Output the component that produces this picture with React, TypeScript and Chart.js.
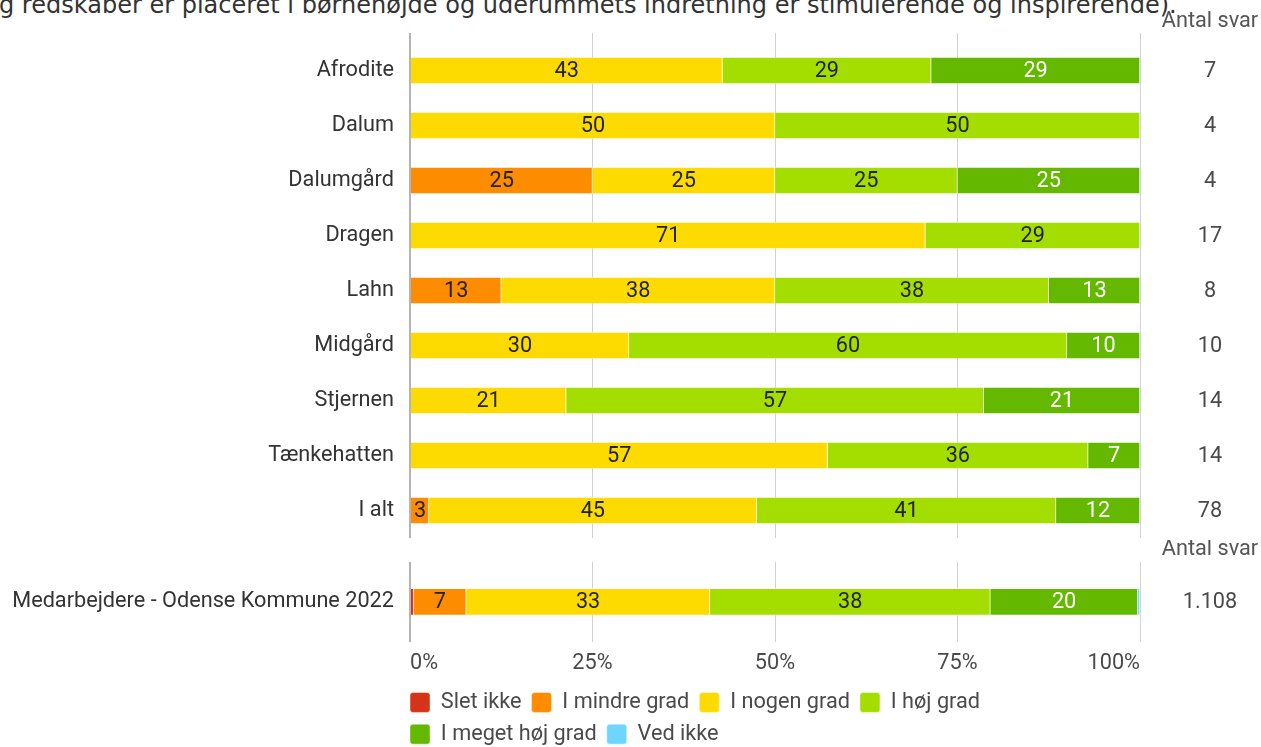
import React, { useEffect, useRef } from "react";
import { Chart, registerables } from "chart.js";

Chart.register(...registerables);

// ---------- DATA ----------
const titleText =
  "g redskaber er placeret i børnehøjde og uderummets indretning er stimulerende og inspirerende).";
const answerHeader = "Antal svar";

const categories = [
  "Afrodite",
  "Dalum",
  "Dalumgård",
  "Dragen",
  "Lahn",
  "Midgård",
  "Stjernen",
  "Tænkehatten",
  "I alt",
];
const answerCounts = ["7", "4", "4", "17", "8", "10", "14", "14", "78"];

const sletIkke = [0, 0, 0, 0, 0, 0, 0, 0, 0];
const iMindreGrad = [0, 0, 25, 0, 12.5, 0, 0, 0, 2.6];
const iNogenGrad = [42.8, 50, 25, 70.6, 37.5, 30, 21.4, 57.2, 44.9];
const iHoejGrad = [28.6, 50, 25, 29.4, 37.5, 60, 57.2, 35.7, 41.0];
const iMegetHoejGrad = [28.6, 0, 25, 0, 12.5, 10, 21.4, 7.1, 11.5];
const vedIkke = [0, 0, 0, 0, 0, 0, 0, 0, 0];

const benchmarkCategories = ["Medarbejdere - Odense Kommune 2022"];
const benchmarkCounts = ["1.108"];
const benchSletIkke = [0.5];
const benchIMindreGrad = [7.2];
const benchINogenGrad = [33.4];
const benchIHoejGrad = [38.4];
const benchIMegetHoejGrad = [20.2];
const benchVedIkke = [0.3];

const seriesNames = [
  "Slet ikke",
  "I mindre grad",
  "I nogen grad",
  "I høj grad",
  "I meget høj grad",
  "Ved ikke",
];
const seriesColors = ["#d63418", "#fd8c00", "#fedb00", "#a4de00", "#64b800", "#6fd5ff"];
const xTickValues = [0, 25, 50, 75, 100];

// ---------- STYLE ----------
const FONT = "Roboto";
const FS = 21.7;
const TEXT_DARK = "#333333";
const TEXT_MID = "#4a4a4a";

const gridColor = (c: any) =>
  c.tick && c.tick.value === xTickValues[0] ? "#b4b4b4" : "#d2d2d2";
const gridWidth = (c: any) => (c.tick && c.tick.value === xTickValues[0] ? 2 : 1);

const valueLabels = {
  id: "valueLabels",
  afterDatasetsDraw(chart: any) {
    const ctx = chart.ctx;
    ctx.save();
    ctx.font = `${FS}px ${FONT}`;
    ctx.textAlign = "center";
    ctx.textBaseline = "middle";
    chart.data.datasets.forEach((ds: any, di: number) => {
      const meta = chart.getDatasetMeta(di);
      meta.data.forEach((el: any, i: number) => {
        const v = ds.data[i] as number;
        if (!v || v < 1) return;
        ctx.fillStyle = di === 4 ? "#ffffff" : "#222222";
        ctx.fillText(String(Math.round(v)), (el.x + el.base) / 2, el.y + 1);
      });
    });
    ctx.restore();
  },
};

const answerColumn = (header: string, counts: string[], headerY: number) => ({
  id: "answerColumn",
  afterDraw(chart: any) {
    const ctx = chart.ctx;
    const yScale = chart.scales.y;
    const x = chart.chartArea.right + 70;
    ctx.save();
    ctx.font = `${FS}px ${FONT}`;
    ctx.textAlign = "center";
    ctx.textBaseline = "middle";
    ctx.fillStyle = "#555555";
    ctx.fillText(header, x, headerY);
    ctx.fillStyle = TEXT_MID;
    counts.forEach((c, i) => ctx.fillText(c, x, yScale.getPixelForValue(i) + 1));
    ctx.restore();
  },
});

const legendShift = {
  id: "legendShift",
  afterLayout(chart: any) {
    const l = chart.legend;
    if (!l) return;
    const p = l.options.labels.padding || 0;
    l.left -= p;
    l.right -= p;
  },
};

const makeDatasets = (series: number[][]) =>
  seriesNames.map((name, k) => ({
    label: name,
    data: series[k],
    backgroundColor: seriesColors[k],
    borderColor: "rgba(255,255,255,0.45)",
    borderWidth: 1,
    barThickness: 27,
  }));

const yAxis = () => ({
  stacked: true,
  grid: { display: false, drawTicks: false },
  border: { display: false },
  ticks: {
    color: TEXT_DARK,
    font: { family: FONT, size: FS },
    padding: 16,
  },
  afterFit: (s: any) => {
    s.width = 410;
    s.paddingTop = 0;
    s.paddingBottom = 0;
  },
});

export default function App() {
  const topRef = useRef<HTMLCanvasElement | null>(null);
  const bottomRef = useRef<HTMLCanvasElement | null>(null);

  useEffect(() => {
    if (!topRef.current || !bottomRef.current) return;

    const top = new Chart(topRef.current, {
      type: "bar",
      data: {
        labels: categories,
        datasets: makeDatasets([
          sletIkke,
          iMindreGrad,
          iNogenGrad,
          iHoejGrad,
          iMegetHoejGrad,
          vedIkke,
        ]) as any,
      },
      options: {
        indexAxis: "y",
        responsive: false,
        animation: false,
        devicePixelRatio: 1,
        layout: { padding: { top: 33, right: 121, bottom: 2, left: 0 } },
        plugins: { legend: { display: false }, tooltip: { enabled: false } },
        scales: {
          x: {
            position: "top",
            stacked: true,
            min: 0,
            max: 100,
            ticks: { display: false, stepSize: 25 },
            grid: { color: gridColor, lineWidth: gridWidth, drawTicks: true, tickLength: 10 },
            border: { display: false },
          },
          y: yAxis(),
        },
      } as any,
      plugins: [valueLabels, answerColumn(answerHeader, answerCounts, 22)],
    });

    const bottom = new Chart(bottomRef.current, {
      type: "bar",
      data: {
        labels: benchmarkCategories,
        datasets: makeDatasets([
          benchSletIkke,
          benchIMindreGrad,
          benchINogenGrad,
          benchIHoejGrad,
          benchIMegetHoejGrad,
          benchVedIkke,
        ]) as any,
      },
      options: {
        indexAxis: "y",
        responsive: false,
        animation: false,
        devicePixelRatio: 1,
        layout: { padding: { top: 22, right: 121, bottom: 0, left: 0 } },
        plugins: {
          tooltip: { enabled: false },
          legend: {
            display: true,
            position: "bottom",
            align: "start",
            fullSize: false,
            labels: {
              color: TEXT_MID,
              font: { family: FONT, size: FS },
              boxWidth: 20,
              boxHeight: 20,
              padding: 10,
              useBorderRadius: true,
              borderRadius: 3,
            },
          },
        },
        scales: {
          x: {
            position: "bottom",
            stacked: true,
            min: 0,
            max: 100,
            ticks: {
              stepSize: 25,
              callback: (v: any) => `${v}%`,
              align: "inner",
              padding: 9,
              color: TEXT_MID,
              font: { family: FONT, size: FS },
            },
            grid: { color: gridColor, lineWidth: gridWidth, drawTicks: false },
            border: { display: false },
            afterFit: (s: any) => {
              s.height = 40;
            },
          },
          y: yAxis(),
        },
      } as any,
      plugins: [valueLabels, answerColumn(answerHeader, benchmarkCounts, 10), legendShift],
    });

    return () => {
      top.destroy();
      bottom.destroy();
    };
  }, []);

  return (
    <div
      style={{
        position: "fixed",
        left: 0,
        top: 0,
        width: 1261,
        height: 747,
        overflow: "hidden",
        background: "#ffffff",
      }}
    >
      <div
        style={{
          position: "absolute",
          left: -1,
          top: -7,
          fontFamily: "'DejaVu Sans'",
          fontSize: 24,
          lineHeight: "24px",
          color: TEXT_DARK,
          whiteSpace: "nowrap",
        }}
      >
        {titleText}
      </div>
      <canvas
        ref={topRef}
        width={1261}
        height={540}
        style={{ position: "absolute", left: 0, top: 0, display: "block" }}
      />
      <canvas
        ref={bottomRef}
        width={1261}
        height={215}
        style={{ position: "absolute", left: 0, top: 540, display: "block" }}
      />
    </div>
  );
}
